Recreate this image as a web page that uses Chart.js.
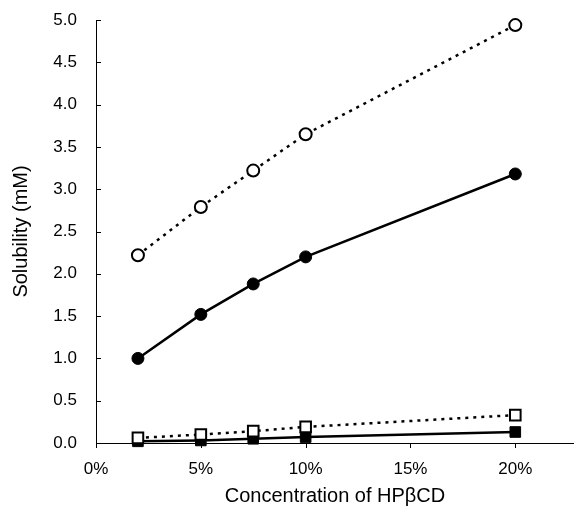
<!DOCTYPE html>
<html>
<head>
<meta charset="utf-8">
<script src="https://cdn.jsdelivr.net/npm/chart.js@4/dist/chart.umd.min.js"></script>
<style>
  html, body { margin: 0; padding: 0; background: #fff; }
  #wrap { width: 574px; height: 512px; }
</style>
</head>
<body>
<div id="wrap"><canvas id="solubility"></canvas></div>
<script>
// concentration of HPbCD (%)
const concentrations = [2, 5, 7.5, 10, 20];

// solubility (mM)
const openCircles   = [2.22, 2.79, 3.22, 3.65, 4.94];
const closedCircles = [1.00, 1.52, 1.88, 2.20, 3.18];
const openSquares   = [0.06, 0.10, 0.14, 0.19, 0.33];
const closedSquares = [0.02, 0.03, 0.05, 0.07, 0.13];

const xTicks = [0, 5, 10, 15, 20];
const yTicks = [0, 0.5, 1, 1.5, 2, 2.5, 3, 3.5, 4, 4.5, 5];

function points(ys) {
  return concentrations.map((x, i) => ({ x: x, y: ys[i] }));
}

function series(label, ys, style, filled, dashed) {
  return {
    label: label,
    data: points(ys),
    borderColor: '#000',
    borderWidth: 2.5,
    borderDash: dashed ? [3, 5] : [],
    pointStyle: style,
    pointRadius: style === 'rect' ? 7.5 : 6,
    pointBorderWidth: filled ? 1 : 2,
    pointBorderColor: '#000',
    pointBackgroundColor: filled ? '#000' : '#fff',
    fill: false,
    tension: 0
  };
}

// short tick marks: inward on the y axis, downward on the x axis
const tickMarks = {
  id: 'tickMarks',
  afterDraw(chart) {
    const ctx = chart.ctx;
    const x = chart.scales.x, y = chart.scales.y;
    ctx.save();
    ctx.strokeStyle = '#000';
    ctx.lineWidth = 1;
    ctx.beginPath();
    for (const v of yTicks) {
      const py = Math.round(y.getPixelForValue(v)) + 0.5;
      ctx.moveTo(x.left, py);
      ctx.lineTo(x.left + 5, py);
    }
    for (const v of xTicks) {
      const px = Math.round(x.getPixelForValue(v)) + 0.5;
      ctx.moveTo(px, y.bottom);
      ctx.lineTo(px, y.bottom + 5);
    }
    ctx.stroke();
    ctx.restore();
  }
};

new Chart(document.getElementById('solubility'), {
  type: 'line',
  data: {
    datasets: [
      series('open circles', openCircles, 'circle', false, true),
      series('closed circles', closedCircles, 'circle', true, false),
      series('open squares', openSquares, 'rect', false, true),
      series('closed squares', closedSquares, 'rect', true, false)
    ]
  },
  options: {
    responsive: true,
    maintainAspectRatio: false,
    animation: false,
    layout: { autoPadding: false, padding: { top: 20, right: 0, left: 0, bottom: 0 } },
    clip: false,
    plugins: {
      legend: { display: false },
      tooltip: { enabled: false }
    },
    scales: {
      x: {
        type: 'linear',
        min: 0,
        max: 22.8,
        afterFit: (s) => { s.height = 69; s.paddingLeft = 0; s.paddingRight = 0; },
        afterBuildTicks: (s) => { s.ticks = xTicks.map(v => ({ value: v })); },
        grid: { display: false, drawTicks: false },
        border: { color: '#000', width: 1 },
        ticks: {
          color: '#000',
          padding: 16,
          font: { family: 'Liberation Sans', size: 17 },
          callback: (v) => v + '%'
        },
        title: {
          display: true,
          text: 'Concentration of HP\u03b2CD',
          color: '#000',
          font: { family: 'Liberation Sans', size: 20 },
          padding: { top: 10 }
        }
      },
      y: {
        min: 0,
        max: 5,
        afterFit: (s) => { s.width = 96; s.paddingTop = 0; s.paddingBottom = 0; },
        afterBuildTicks: (s) => { s.ticks = yTicks.map(v => ({ value: v })); },
        grid: { display: false, drawTicks: false },
        border: { color: '#000', width: 1 },
        ticks: {
          color: '#000',
          padding: 19,
          font: { family: 'Liberation Sans', size: 17 },
          callback: (v) => v.toFixed(1)
        },
        title: {
          display: true,
          text: 'Solubility (mM)',
          color: '#000',
          font: { family: 'Liberation Sans', size: 20 },
          padding: { top: 9, bottom: 0 }
        }
      }
    }
  },
  plugins: [tickMarks]
});
</script>
</body>
</html>
